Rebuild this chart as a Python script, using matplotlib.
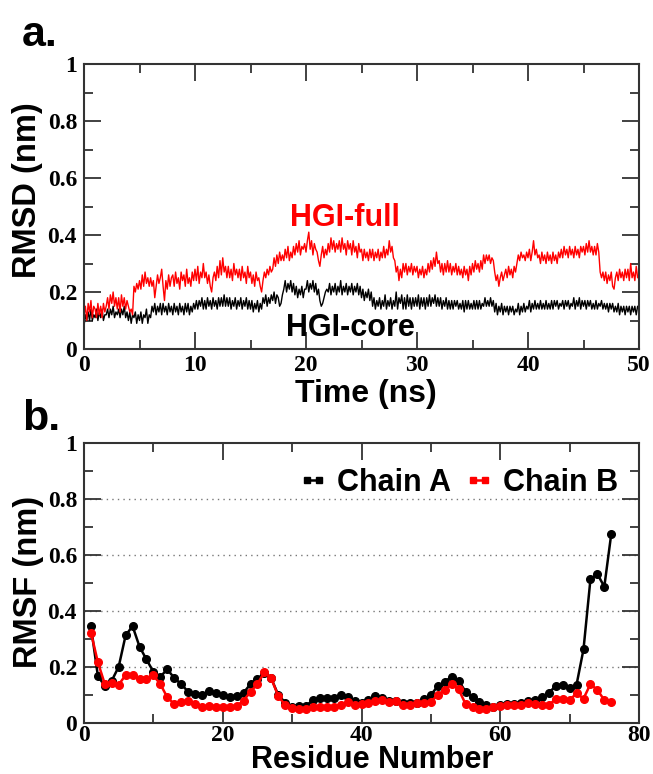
import numpy as np
import matplotlib
matplotlib.use("Agg")
import matplotlib.pyplot as plt
from matplotlib.lines import Line2D
from matplotlib.ticker import MultipleLocator

# ---------------- data ----------------
rmsd_full = [
    .12, .15, .10, .16, .13, .17, .11, .15,
    .14, .11, .16, .12, .15, .11, .16, .13,
    .15, .18, .14, .19, .16, .20, .15, .18,
    .14, .18, .13, .19, .15, .18, .14, .17,
    .15, .13, .14, .12, .22, .20, .23, .21,
    .24, .21, .26, .22, .27, .23, .25, .22,
    .25, .22, .24, .18, .22, .26, .23, .25,
    .28, .22, .17, .24, .21, .26, .22, .25,
    .26, .22, .27, .23, .25, .21, .27, .24,
    .26, .22, .28, .23, .25, .22, .27, .24,
    .28, .24, .29, .23, .27, .25, .30, .25,
    .27, .23, .26, .22, .20, .25, .27, .24,
    .29, .25, .31, .26, .32, .27, .29, .25,
    .29, .25, .28, .24, .30, .26, .28, .25,
    .28, .24, .29, .25, .27, .23, .29, .25,
    .27, .23, .26, .22, .27, .24, .25, .22,
    .20, .24, .27, .25, .28, .26, .29, .27,
    .28, .32, .29, .33, .30, .34, .31, .33,
    .31, .35, .32, .36, .31, .34, .32, .36,
    .33, .37, .34, .38, .33, .36, .35, .37,
    .34, .38, .41, .35, .38, .33, .37, .35,
    .34, .31, .29, .33, .36, .32, .35, .33,
    .37, .34, .39, .35, .38, .34, .37, .35,
    .38, .34, .39, .35, .37, .33, .38, .35,
    .37, .33, .38, .34, .36, .32, .37, .34,
    .35, .31, .35, .32, .34, .31, .35, .32,
    .35, .31, .34, .32, .35, .31, .34, .32,
    .36, .32, .35, .33, .38, .34, .36, .32,
    .31, .27, .29, .24, .28, .25, .30, .27,
    .30, .26, .29, .27, .30, .26, .29, .27,
    .29, .25, .28, .26, .29, .25, .28, .26,
    .30, .27, .31, .28, .32, .29, .34, .30,
    .31, .27, .30, .26, .30, .27, .31, .27,
    .30, .26, .29, .27, .30, .26, .29, .26,
    .28, .25, .29, .26, .28, .24, .29, .26,
    .30, .27, .31, .28, .30, .27, .31, .28,
    .33, .30, .33, .31, .33, .30, .32, .31,
    .27, .24, .26, .22, .25, .27, .24, .26,
    .28, .25, .29, .26, .28, .25, .29, .27,
    .30, .33, .31, .34, .32, .33, .31, .34,
    .32, .35, .31, .34, .38, .33, .35, .32,
    .33, .30, .34, .31, .33, .30, .34, .31,
    .33, .30, .34, .31, .33, .30, .34, .32,
    .35, .32, .36, .33, .35, .32, .36, .33,
    .35, .32, .36, .33, .35, .32, .36, .34,
    .36, .33, .37, .34, .38, .34, .36, .33,
    .36, .33, .37, .34, .27, .25, .27, .24,
    .27, .23, .26, .24, .27, .22, .21, .25,
    .27, .24, .28, .25, .27, .24, .28, .25,
    .28, .24, .30, .25, .27, .24, .29, .25,
    .26,
]
rmsd_core = [
    .08, .12, .10, .13, .10, .14, .10, .12,
    .11, .14, .10, .13, .11, .14, .10, .12,
    .12, .14, .11, .14, .12, .15, .11, .13,
    .12, .14, .11, .14, .12, .15, .11, .13,
    .10, .13, .09, .12, .11, .13, .09, .12,
    .10, .13, .09, .12, .11, .14, .09, .12,
    .11, .15, .13, .16, .12, .15, .13, .16,
    .12, .16, .13, .15, .12, .16, .13, .15,
    .12, .16, .13, .15, .12, .16, .13, .15,
    .12, .16, .13, .16, .12, .15, .13, .16,
    .14, .17, .14, .17, .15, .18, .14, .17,
    .14, .18, .15, .17, .14, .18, .15, .17,
    .14, .18, .15, .18, .15, .19, .15, .18,
    .15, .18, .14, .17, .15, .18, .14, .17,
    .15, .18, .14, .17, .15, .18, .14, .17,
    .14, .17, .13, .16, .14, .17, .13, .16,
    .14, .18, .16, .19, .15, .18, .16, .19,
    .17, .20, .16, .19, .18, .15, .16, .19,
    .21, .24, .20, .23, .21, .24, .20, .23,
    .19, .22, .18, .21, .19, .22, .18, .21,
    .21, .24, .20, .23, .21, .24, .20, .23,
    .19, .21, .17, .15, .16, .18, .20, .21,
    .20, .23, .19, .22, .20, .23, .19, .22,
    .20, .24, .19, .22, .20, .23, .19, .22,
    .20, .23, .19, .22, .20, .23, .19, .22,
    .18, .21, .17, .20, .18, .21, .17, .20,
    .15, .18, .14, .17, .15, .18, .14, .17,
    .15, .19, .14, .17, .15, .18, .14, .17,
    .15, .20, .14, .18, .16, .19, .14, .18,
    .14, .19, .15, .18, .14, .18, .15, .18,
    .15, .19, .14, .18, .15, .18, .14, .18,
    .15, .19, .15, .18, .16, .19, .15, .18,
    .15, .18, .14, .17, .15, .18, .14, .17,
    .14, .17, .14, .17, .15, .17, .14, .16,
    .14, .17, .13, .17, .14, .17, .14, .16,
    .14, .17, .14, .17, .14, .17, .14, .16,
    .15, .18, .15, .17, .15, .18, .15, .17,
    .13, .16, .12, .15, .13, .16, .12, .15,
    .13, .15, .12, .15, .13, .15, .12, .14,
    .13, .16, .12, .15, .13, .16, .13, .15,
    .14, .17, .13, .16, .14, .17, .14, .16,
    .14, .17, .14, .16, .14, .17, .14, .16,
    .14, .17, .14, .17, .15, .17, .14, .16,
    .15, .17, .14, .17, .15, .17, .14, .16,
    .15, .18, .14, .17, .15, .18, .14, .17,
    .15, .17, .14, .17, .15, .17, .14, .16,
    .14, .17, .14, .16, .15, .17, .14, .16,
    .14, .16, .13, .16, .14, .16, .13, .15,
    .13, .16, .12, .15, .13, .15, .12, .15,
    .13, .15, .12, .15, .13, .15, .12, .15,
    .14,
]
time_full = np.linspace(0, 50, len(rmsd_full))
time_core = np.linspace(0, 50, len(rmsd_core))

# RMSF (nm) per residue
residues = list(range(1, 77))
rmsf_chain_a = [
    0.346, 0.168, 0.132, 0.151, 0.201, 0.313, 0.346, 0.273, 0.227, 0.183,
    0.165, 0.192, 0.161, 0.139, 0.112, 0.104, 0.099, 0.115, 0.106, 0.101,
    0.092, 0.096, 0.108, 0.139, 0.156, 0.180, 0.159, 0.100, 0.073, 0.058,
    0.061, 0.061, 0.082, 0.088, 0.088, 0.088, 0.099, 0.092, 0.080, 0.073,
    0.082, 0.096, 0.088, 0.080, 0.080, 0.070, 0.070, 0.070, 0.085, 0.100,
    0.132, 0.148, 0.165, 0.151, 0.112, 0.092, 0.076, 0.064, 0.056, 0.064,
    0.068, 0.068, 0.073, 0.080, 0.082, 0.092, 0.108, 0.132, 0.135, 0.125,
    0.137, 0.263, 0.513, 0.532, 0.487, 0.675,
]
rmsf_chain_b = [
    0.323, 0.217, 0.139, 0.142, 0.137, 0.171, 0.171, 0.156, 0.156, 0.170,
    0.139, 0.092, 0.068, 0.076, 0.080, 0.068, 0.058, 0.061, 0.056, 0.056,
    0.056, 0.061, 0.080, 0.112, 0.139, 0.182, 0.159, 0.096, 0.064, 0.052,
    0.049, 0.049, 0.056, 0.056, 0.058, 0.058, 0.064, 0.076, 0.064, 0.068,
    0.073, 0.080, 0.082, 0.076, 0.080, 0.064, 0.064, 0.070, 0.070, 0.076,
    0.100, 0.118, 0.139, 0.120, 0.068, 0.056, 0.049, 0.049, 0.056, 0.061,
    0.064, 0.064, 0.064, 0.070, 0.068, 0.064, 0.064, 0.086, 0.084, 0.082,
    0.106, 0.087, 0.139, 0.118, 0.082, 0.074,
]

# ---------------- style ----------------
W, H = 653, 774
fig = plt.figure(figsize=(W / 100, H / 100), dpi=100)

tick_font = dict(family="Liberation Serif", weight="bold", size=17)
sans = dict(family="Liberation Sans", weight="bold")
spine_col = "#333333"


def style_axes(ax, xmaj, xmin, ymaj, ymin, xpad=5):
    ax.xaxis.set_major_locator(MultipleLocator(xmaj))
    ax.xaxis.set_minor_locator(MultipleLocator(xmin))
    ax.yaxis.set_major_locator(MultipleLocator(ymaj))
    ax.yaxis.set_minor_locator(MultipleLocator(ymin))
    ax.tick_params(which="both", direction="in", top=True, right=True,
                   color=spine_col, width=1.3)
    ax.tick_params(which="major", length=12, pad=5)
    ax.tick_params(axis="x", which="major", pad=xpad)
    ax.tick_params(which="minor", length=6.5)
    for s in ax.spines.values():
        s.set_color(spine_col)
        s.set_linewidth(1.5)
    for lab in ax.get_xticklabels() + ax.get_yticklabels():
        lab.set_fontfamily(tick_font["family"])
        lab.set_fontweight(tick_font["weight"])
        lab.set_fontsize(tick_font["size"])


def fmt(v, pos=None):
    if abs(v - round(v)) < 1e-9:
        return str(int(round(v)))
    return "%.1f" % v


def px(x, y):
    return x / W, 1 - y / H


# ---------- panel a ----------
ax1 = fig.add_axes([84 / W, 1 - 349 / H, 555 / W, 285 / H])
ax1.plot(time_core, rmsd_core, color="black", lw=1.0)
ax1.plot(time_full, rmsd_full, color="#ff0000", lw=1.0)
ax1.set_xlim(0, 50)
ax1.set_ylim(0, 1)
ax1.yaxis.set_major_formatter(plt.FuncFormatter(fmt))
style_axes(ax1, 10, 5, 0.2, 0.1, xpad=4)
ax1.text(23.5, 0.46, "HGI-full", color="#ff0000", ha="center", va="center",
         size=22, **sans)
ax1.text(24.0, 0.075, "HGI-core", color="black", ha="center", va="center",
         size=22, **sans)
fig.text(*px(366, 402), "Time (ns)", ha="center", va="baseline", size=23, **sans)
fig.text(*px(28, 190), "RMSD (nm)", ha="center", va="center", rotation=90,
         size=23.5, **sans)

# ---------- panel b ----------
ax2 = fig.add_axes([84 / W, 1 - 723 / H, 555 / W, 280 / H])
for yv in [0.2, 0.4, 0.6, 0.8]:
    ax2.axhline(yv, color="#777777", lw=1.0, ls=(0, (1, 3)), zorder=0)
ax2.plot(residues, rmsf_chain_a, color="black", lw=1.8, marker="o",
         markersize=5.5, zorder=3)
ax2.plot(residues, rmsf_chain_b, color="#ff0000", lw=1.8, marker="o",
         markersize=5.5, zorder=4)
ax2.set_xlim(0, 80)
ax2.set_ylim(0, 1)
ax2.yaxis.set_major_formatter(plt.FuncFormatter(fmt))
style_axes(ax2, 20, 10, 0.2, 0.1, xpad=1.5)
fig.text(*px(372, 768), "Residue Number", ha="center", va="baseline",
         size=22, **sans)
fig.text(*px(29, 582), "RMSF (nm)", ha="center", va="center", rotation=90,
         size=23.5, **sans)

handles = [
    Line2D([], [], color="black", lw=1.8, marker="s", markersize=4.5),
    Line2D([], [], color="#ff0000", lw=1.8, marker="s", markersize=4.5),
]
ax2.legend(handles, ["Chain A", "Chain B"], loc="upper right",
           bbox_to_anchor=(0.985, 0.955), ncol=2, frameon=False,
           numpoints=2, handlelength=1.0, handletextpad=0.3,
           columnspacing=0.4, borderaxespad=0,
           prop=dict(family="Liberation Sans", weight="bold", size=22))

# panel letters
fig.text(*px(22, 46), "a.", ha="left", va="baseline", size=31, **sans)
fig.text(*px(22, 430), "b.", ha="left", va="baseline", size=31, **sans)

fig.savefig("out.png", dpi=100)
